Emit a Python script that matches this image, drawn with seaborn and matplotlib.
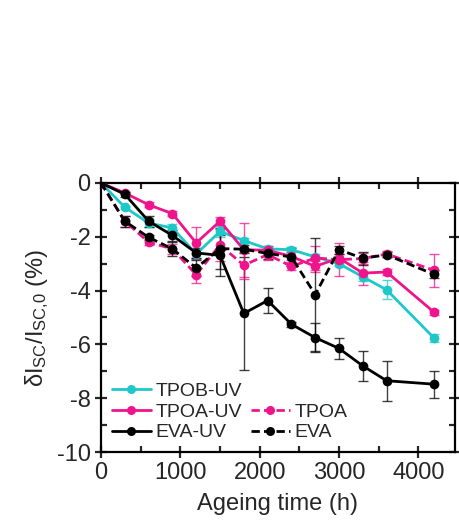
import matplotlib
matplotlib.use('Agg')
import matplotlib.pyplot as plt
from matplotlib.lines import Line2D
import seaborn as sns
import pandas as pd

# ageing time (h)
hours = [0, 300, 600, 900, 1200, 1500, 1800, 2100, 2400, 2700, 3000, 3300, 3600, 4200]

# relative change of Isc (%) and error bars
tpob_uv = [0, -0.9, -1.49, -1.67, -2.64, -1.8, -2.14, -2.45, -2.48, -2.75, -3.0, -3.49, -3.97, -5.77]
tpob_uv_err = [0, 0.05, 0.15, 0.15, 0.15, 0.2, 0.1, 0.1, 0.1, 0.1, 0.1, 0.15, 0.35, 0.15]

tpoa_uv = [0, -0.37, -0.81, -1.14, -2.23, -1.42, -2.48, -2.5, -2.73, -3.1, -2.79, -3.35, -3.31, -4.81]
tpoa_uv_err = [0, 0.05, 0.1, 0.1, 0.6, 0.15, 1.0, 0.15, 0.15, 0.2, 0.15, 0.43, 0.1, 0.1]

tpoa = [0, -1.42, -2.2, -2.45, -3.41, -2.3, -3.06, -2.66, -3.1, -2.79, -2.85, -2.81, -2.64, -3.25]
tpoa_err = [0, 0.2, 0.1, 0.2, 0.3, 0.6, 0.5, 0.2, 0.15, 0.45, 0.62, 0.2, 0.1, 0.62]

eva_uv = [0, -0.42, -1.42, -1.95, -2.6, -2.69, -4.85, -4.37, -5.25, -5.75, -6.15, -6.8, -7.35, -7.48]
eva_uv_err = [0, 0.1, 0.2, 0.2, 0.2, 0.75, 2.1, 0.45, 0.1, 0.55, 0.38, 0.55, 0.75, 0.5]

eva = [0, -1.42, -2.02, -2.45, -3.16, -2.44, -2.46, -2.62, -2.75, -4.15, -2.48, -2.8, -2.67, -3.4]
eva_err = [0, 0.2, 0.1, 0.25, 0.3, 0.75, 0.15, 0.2, 0.35, 2.1, 0.15, 0.25, 0.1, 0.15]

cyan = '#1ec8c8'
pink = '#f0148c'

sns.set_style('ticks')
plt.rcParams['font.family'] = ['Liberation Sans', 'DejaVu Sans']
plt.rcParams['mathtext.default'] = 'regular'
plt.rcParams['axes.unicode_minus'] = False

fig = plt.figure(figsize=(4.59, 5.27), dpi=100)
ax = fig.add_axes([0.22, 0.1423, 0.771, 0.5105])

series = [
    ('TPOB-UV', tpob_uv, tpob_uv_err, cyan, '-'),
    ('TPOA-UV', tpoa_uv, tpoa_uv_err, pink, '-'),
    ('EVA-UV', eva_uv, eva_uv_err, 'black', '-'),
    ('TPOA', tpoa, tpoa_err, pink, (0, (3, 1.5))),
    ('EVA', eva, eva_err, 'black', (0, (3, 1.5))),
]

handles = {}
for name, vals, errs, col, ls in series:
    df = pd.DataFrame({'t': hours, 'v': vals})
    ax.errorbar(hours, vals, yerr=errs, fmt='none', ecolor=col, elinewidth=1,
                capsize=3.5, capthick=1, alpha=0.75, zorder=2)
    sns.lineplot(data=df, x='t', y='v', ax=ax, color=col, linestyle=ls, lw=2,
                 marker='o', markersize=7, markeredgewidth=0, zorder=3)
    handles[name] = Line2D([], [], color=col, linestyle=ls, lw=2, marker='o',
                           markersize=6.5, markeredgewidth=0)

blank = Line2D([], [], color='none')
leg_handles = [handles['TPOB-UV'], handles['TPOA-UV'], handles['EVA-UV'],
               blank, handles['TPOA'], handles['EVA']]
leg_labels = ['TPOB-UV', 'TPOA-UV', 'EVA-UV', '', 'TPOA', 'EVA']
ax.legend(leg_handles, leg_labels, ncol=2, loc='lower left',
          bbox_to_anchor=(0.0, 0.0), frameon=False, fontsize=14,
          handlelength=2.0, handletextpad=0.25, columnspacing=0.45,
          labelspacing=0.15, borderaxespad=0.15)

ax.set_xlim(0, 4460)
ax.set_ylim(-10, 0)
ax.set_xticks([0, 1000, 2000, 3000, 4000])
ax.set_xticks(range(500, 4500, 1000), minor=True)
ax.set_yticks(range(-10, 1, 2))
ax.set_yticks(range(-9, 0, 2), minor=True)

ax.set_xlabel('Ageing time (h)', fontsize=17, labelpad=6)
ax.set_ylabel(r'$\delta$I$_{SC}$/I$_{SC{,}0}$ (%)', fontsize=17, labelpad=4)

for s in ax.spines.values():
    s.set_linewidth(1.6)
    s.set_color('black')
ax.tick_params(which='major', direction='inout', length=8, width=1.6,
               labelsize=17)
ax.tick_params(which='minor', direction='in', length=4, width=1.6)
ax.tick_params(axis='x', which='both', top=True)
ax.tick_params(axis='y', which='both', right=True)

fig.savefig('out.png', dpi=100)
